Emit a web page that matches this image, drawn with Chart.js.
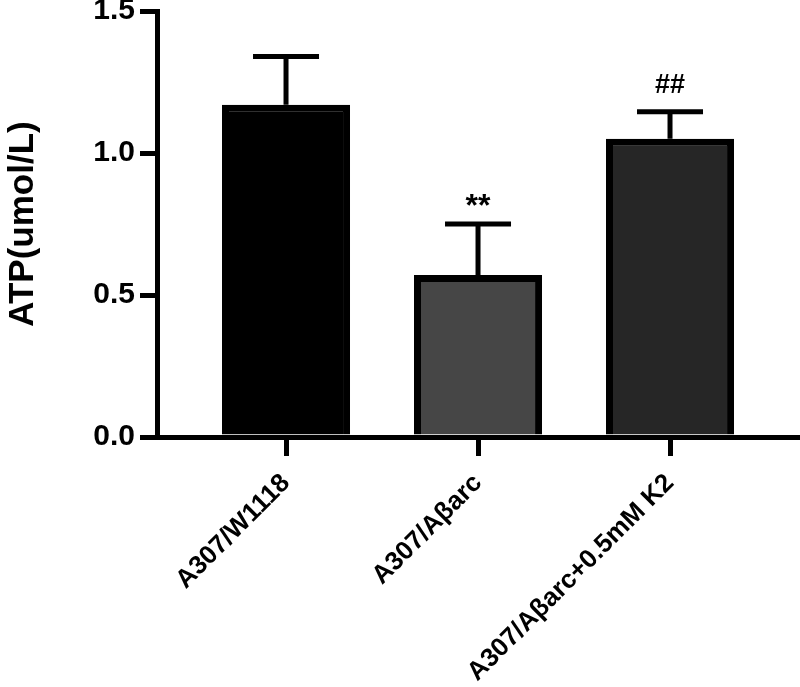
<!DOCTYPE html>
<html>
<head>
<meta charset="utf-8">
<script src="https://cdn.jsdelivr.net/npm/chart.js@4"></script>
<style>
  html, body { margin: 0; padding: 0; background: #fff; }
  #wrap { width: 800px; height: 687px; }
</style>
</head>
<body>
<div id="wrap"><canvas id="myChart"></canvas></div>
<script>
const groups = ["A307/W1118", "A307/Aβarc", "A307/Aβarc+0.5mM K2"];
const atpMean = [1.17, 0.57, 1.05];
const atpSd = [0.17, 0.18, 0.095];
const marks = ["", "**", "##"];
const yTicks = [0, 0.5, 1.0, 1.5];
const barFill = ["#000000", "#464646", "#262626"];

const fontFam = "'Liberation Sans', Arial, sans-serif";

// upper error bars + significance marks
const errorBars = {
  id: "errorBars",
  afterDatasetsDraw(chart) {
    const ctx = chart.ctx;
    const xs = chart.scales.x, ys = chart.scales.y;
    ctx.save();
    ctx.strokeStyle = "#000";
    ctx.lineWidth = 5;
    ctx.lineCap = "butt";
    atpMean.forEach((m, i) => {
      const x = xs.getPixelForValue(i + 1);
      const y0 = ys.getPixelForValue(m);
      const y1 = ys.getPixelForValue(m + atpSd[i]);
      ctx.beginPath();
      ctx.moveTo(x, y0);
      ctx.lineTo(x, y1);
      ctx.moveTo(x - 33, y1);
      ctx.lineTo(x + 33, y1);
      ctx.stroke();
      if (marks[i]) {
        ctx.fillStyle = "#000";
        ctx.textAlign = "center";
        ctx.textBaseline = "alphabetic";
        if (marks[i] === "**") {
          ctx.font = "bold 32px " + fontFam;
          ctx.fillText(marks[i], x, y1 - 8);
        } else {
          ctx.font = "bold 27px " + fontFam;
          ctx.fillText(marks[i], x, y1 - 19);
        }
      }
    });
    ctx.restore();
  }
};

const ctx = document.getElementById("myChart");
new Chart(ctx, {
  type: "bar",
  data: {
    datasets: [{
      label: "ATP",
      data: atpMean.map((v, i) => ({ x: i + 1, y: v })),
      backgroundColor: barFill,
      borderColor: "#000",
      borderWidth: 7,
      borderSkipped: "bottom",
      categoryPercentage: 1,
      barPercentage: 0.667
    }]
  },
  options: {
    responsive: true,
    maintainAspectRatio: false,
    animation: false,
    layout: { padding: { top: 11, left: 0, right: 0, bottom: 0 } },
    plugins: { legend: { display: false }, tooltip: { enabled: false } },
    scales: {
      x: {
        type: "linear",
        offset: false,
        min: 0.328,
        max: 3.677,
        afterBuildTicks: s => { s.ticks = groups.map((_, i) => ({ value: i + 1 })); },
        afterFit: s => { s.height = 250; },
        border: { color: "#000", width: 5 },
        grid: { offset: false, drawOnChartArea: false, color: "#000", lineWidth: 5, tickLength: 19 },
        ticks: {
          autoSkip: false,
          minRotation: 45,
          maxRotation: 45,
          padding: 12,
          color: "#000",
          font: { family: fontFam, weight: "bold", size: 26 },
          callback: v => groups[v - 1]
        }
      },
      y: {
        min: 0,
        max: 1.5,
        afterBuildTicks: s => { s.ticks = yTicks.map(v => ({ value: v })); },
        afterFit: s => { s.width = 157; s.paddingTop = 0; s.paddingBottom = 0; },
        border: { color: "#000", width: 5 },
        grid: { drawOnChartArea: false, color: "#000", lineWidth: 5, tickLength: 17 },
        ticks: {
          padding: 5,
          color: "#000",
          font: { family: fontFam, weight: "bold", size: 30 },
          callback: v => v.toFixed(1)
        },
        title: {
          display: true,
          text: "ATP(umol/L)",
          color: "#000",
          padding: { top: 2, bottom: 0 },
          font: { family: fontFam, weight: "bold", size: 35 }
        }
      }
    }
  },
  plugins: [errorBars]
});
</script>
</body>
</html>
